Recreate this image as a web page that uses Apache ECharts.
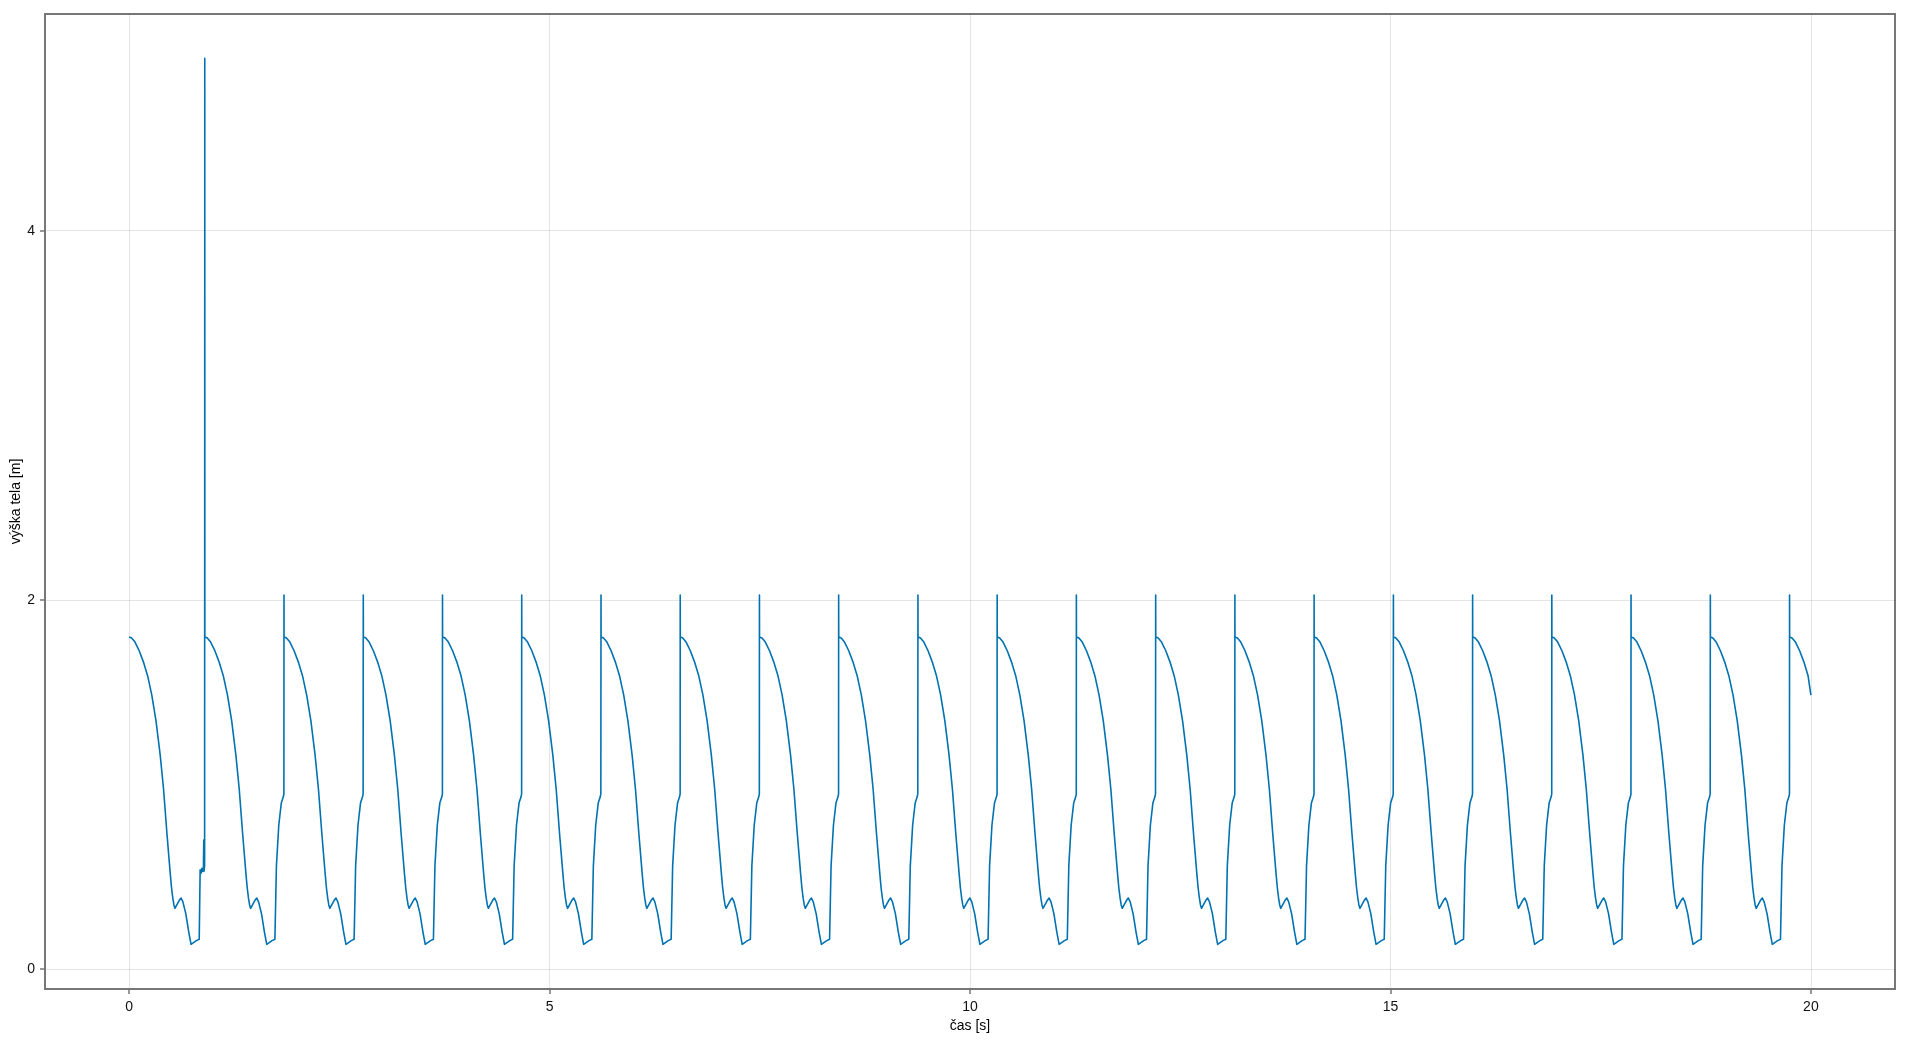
<!DOCTYPE html>
<html>
<head>
<meta charset="utf-8">
<script src="https://cdn.jsdelivr.net/npm/echarts@6/dist/echarts.min.js"></script>
<style>
html,body{margin:0;padding:0;background:#fff;}
#chart{width:1905px;height:1041px;}
</style>
</head>
<body>
<div id="chart"></div>
<script>
// Axis titles and tick labels
const xTitle = 'čas [s]';
const yTitle = 'výška tela [m]';
const xTicks = [0, 5, 10, 15, 20];
const yTicks = [0, 2, 4];

// time [s], one line per jump cycle
const timeS = [
  0.000, 0.030, 0.070, 0.120, 0.170, 0.220, 0.270, 0.320, 0.370, 0.410, 0.450, 0.490, 0.505, 0.520, 0.533, 0.545, 0.565, 0.595, 0.618, 0.640, 0.675, 0.710, 0.737, 0.800, 0.834, 0.845, 0.856, 0.866, 0.872, 0.884, 0.888, 0.890, 0.898,
  0.900, 0.901, 0.930, 0.970, 1.020, 1.070, 1.120, 1.170, 1.220, 1.270, 1.310, 1.350, 1.390, 1.405, 1.420, 1.433, 1.445, 1.465, 1.495, 1.518, 1.540, 1.575, 1.610, 1.637, 1.700, 1.734, 1.752, 1.780, 1.810, 1.835, 1.841,
  1.842, 1.843, 1.872, 1.912, 1.962, 2.012, 2.062, 2.112, 2.162, 2.212, 2.252, 2.292, 2.332, 2.347, 2.362, 2.375, 2.387, 2.407, 2.437, 2.460, 2.482, 2.517, 2.552, 2.579, 2.642, 2.676, 2.694, 2.722, 2.752, 2.777, 2.783,
  2.785, 2.786, 2.815, 2.855, 2.905, 2.955, 3.005, 3.055, 3.105, 3.155, 3.195, 3.235, 3.275, 3.290, 3.305, 3.318, 3.330, 3.350, 3.380, 3.403, 3.425, 3.460, 3.495, 3.522, 3.585, 3.619, 3.637, 3.665, 3.695, 3.720, 3.726,
  3.727, 3.728, 3.757, 3.797, 3.847, 3.897, 3.947, 3.997, 4.047, 4.097, 4.137, 4.177, 4.217, 4.232, 4.247, 4.260, 4.272, 4.292, 4.322, 4.345, 4.367, 4.402, 4.437, 4.464, 4.527, 4.561, 4.579, 4.607, 4.637, 4.662, 4.668,
  4.669, 4.670, 4.699, 4.739, 4.789, 4.839, 4.889, 4.939, 4.989, 5.039, 5.079, 5.119, 5.159, 5.174, 5.189, 5.202, 5.214, 5.234, 5.264, 5.287, 5.309, 5.344, 5.379, 5.406, 5.469, 5.503, 5.521, 5.549, 5.579, 5.604, 5.610,
  5.612, 5.613, 5.642, 5.682, 5.732, 5.782, 5.832, 5.882, 5.932, 5.982, 6.022, 6.062, 6.102, 6.117, 6.132, 6.145, 6.157, 6.177, 6.207, 6.230, 6.252, 6.287, 6.322, 6.349, 6.412, 6.446, 6.464, 6.492, 6.522, 6.547, 6.553,
  6.554, 6.555, 6.584, 6.624, 6.674, 6.724, 6.774, 6.824, 6.874, 6.924, 6.964, 7.004, 7.044, 7.059, 7.074, 7.087, 7.099, 7.119, 7.149, 7.172, 7.194, 7.229, 7.264, 7.291, 7.354, 7.388, 7.406, 7.434, 7.464, 7.489, 7.495,
  7.496, 7.497, 7.526, 7.566, 7.616, 7.666, 7.716, 7.766, 7.816, 7.866, 7.906, 7.946, 7.986, 8.001, 8.016, 8.029, 8.041, 8.061, 8.091, 8.114, 8.136, 8.171, 8.206, 8.233, 8.296, 8.330, 8.348, 8.376, 8.406, 8.431, 8.437,
  8.438, 8.439, 8.468, 8.508, 8.558, 8.608, 8.658, 8.708, 8.758, 8.808, 8.848, 8.888, 8.928, 8.943, 8.958, 8.971, 8.983, 9.003, 9.033, 9.056, 9.078, 9.113, 9.148, 9.175, 9.238, 9.272, 9.290, 9.318, 9.348, 9.373, 9.379,
  9.381, 9.382, 9.411, 9.451, 9.501, 9.551, 9.601, 9.651, 9.701, 9.751, 9.791, 9.831, 9.871, 9.886, 9.901, 9.914, 9.926, 9.946, 9.976, 9.999, 10.021, 10.056, 10.091, 10.118, 10.181, 10.215, 10.233, 10.261, 10.291, 10.316, 10.322,
  10.323, 10.324, 10.353, 10.393, 10.443, 10.493, 10.543, 10.593, 10.643, 10.693, 10.733, 10.773, 10.813, 10.828, 10.843, 10.856, 10.868, 10.888, 10.918, 10.941, 10.963, 10.998, 11.033, 11.060, 11.123, 11.157, 11.175, 11.203, 11.233, 11.258, 11.264,
  11.265, 11.266, 11.295, 11.335, 11.385, 11.435, 11.485, 11.535, 11.585, 11.635, 11.675, 11.715, 11.755, 11.770, 11.785, 11.798, 11.810, 11.830, 11.860, 11.883, 11.905, 11.940, 11.975, 12.002, 12.065, 12.099, 12.117, 12.145, 12.175, 12.200, 12.206,
  12.208, 12.209, 12.238, 12.278, 12.328, 12.378, 12.428, 12.478, 12.528, 12.578, 12.618, 12.658, 12.698, 12.713, 12.728, 12.741, 12.753, 12.773, 12.803, 12.826, 12.848, 12.883, 12.918, 12.945, 13.008, 13.042, 13.060, 13.088, 13.118, 13.143, 13.149,
  13.150, 13.151, 13.180, 13.220, 13.270, 13.320, 13.370, 13.420, 13.470, 13.520, 13.560, 13.600, 13.640, 13.655, 13.670, 13.683, 13.695, 13.715, 13.745, 13.768, 13.790, 13.825, 13.860, 13.887, 13.950, 13.984, 14.002, 14.030, 14.060, 14.085, 14.091,
  14.092, 14.093, 14.122, 14.162, 14.212, 14.262, 14.312, 14.362, 14.412, 14.462, 14.502, 14.542, 14.582, 14.597, 14.612, 14.625, 14.637, 14.657, 14.687, 14.710, 14.732, 14.767, 14.802, 14.829, 14.892, 14.926, 14.944, 14.972, 15.002, 15.027, 15.033,
  15.035, 15.036, 15.065, 15.105, 15.155, 15.205, 15.255, 15.305, 15.355, 15.405, 15.445, 15.485, 15.525, 15.540, 15.555, 15.568, 15.580, 15.600, 15.630, 15.653, 15.675, 15.710, 15.745, 15.772, 15.835, 15.869, 15.887, 15.915, 15.945, 15.970, 15.976,
  15.977, 15.978, 16.007, 16.047, 16.097, 16.147, 16.197, 16.247, 16.297, 16.347, 16.387, 16.427, 16.467, 16.482, 16.497, 16.510, 16.522, 16.542, 16.572, 16.595, 16.617, 16.652, 16.687, 16.714, 16.777, 16.811, 16.829, 16.857, 16.887, 16.912, 16.918,
  16.919, 16.920, 16.949, 16.989, 17.039, 17.089, 17.139, 17.189, 17.239, 17.289, 17.329, 17.369, 17.409, 17.424, 17.439, 17.452, 17.464, 17.484, 17.514, 17.537, 17.559, 17.594, 17.629, 17.656, 17.719, 17.753, 17.771, 17.799, 17.829, 17.854, 17.860,
  17.861, 17.862, 17.891, 17.931, 17.981, 18.031, 18.081, 18.131, 18.181, 18.231, 18.271, 18.311, 18.351, 18.366, 18.381, 18.394, 18.406, 18.426, 18.456, 18.479, 18.501, 18.536, 18.571, 18.598, 18.661, 18.695, 18.713, 18.741, 18.771, 18.796, 18.802,
  18.804, 18.805, 18.834, 18.874, 18.924, 18.974, 19.024, 19.074, 19.124, 19.174, 19.214, 19.254, 19.294, 19.309, 19.324, 19.337, 19.349, 19.369, 19.399, 19.422, 19.444, 19.479, 19.514, 19.541, 19.604, 19.638, 19.656, 19.684, 19.714, 19.739, 19.745,
  19.746, 19.747, 19.776, 19.816, 19.866, 19.916, 19.966, 20.000
];

// body height [m], one line per jump cycle
const heightM = [
  1.800, 1.794, 1.772, 1.725, 1.665, 1.590, 1.485, 1.345, 1.160, 0.975, 0.735, 0.515, 0.440, 0.385, 0.348, 0.330, 0.335, 0.372, 0.386, 0.365, 0.300, 0.200, 0.135, 0.155, 0.162, 0.538, 0.520, 0.547, 0.530, 0.545, 0.700, 0.530, 0.560,
  4.934, 1.800, 1.794, 1.772, 1.725, 1.665, 1.590, 1.485, 1.345, 1.160, 0.975, 0.735, 0.515, 0.440, 0.385, 0.348, 0.330, 0.335, 0.372, 0.386, 0.365, 0.300, 0.200, 0.135, 0.155, 0.162, 0.560, 0.780, 0.900, 0.935, 0.950,
  2.027, 1.800, 1.794, 1.772, 1.725, 1.665, 1.590, 1.485, 1.345, 1.160, 0.975, 0.735, 0.515, 0.440, 0.385, 0.348, 0.330, 0.335, 0.372, 0.386, 0.365, 0.300, 0.200, 0.135, 0.155, 0.162, 0.560, 0.780, 0.900, 0.935, 0.950,
  2.027, 1.800, 1.794, 1.772, 1.725, 1.665, 1.590, 1.485, 1.345, 1.160, 0.975, 0.735, 0.515, 0.440, 0.385, 0.348, 0.330, 0.335, 0.372, 0.386, 0.365, 0.300, 0.200, 0.135, 0.155, 0.162, 0.560, 0.780, 0.900, 0.935, 0.950,
  2.027, 1.800, 1.794, 1.772, 1.725, 1.665, 1.590, 1.485, 1.345, 1.160, 0.975, 0.735, 0.515, 0.440, 0.385, 0.348, 0.330, 0.335, 0.372, 0.386, 0.365, 0.300, 0.200, 0.135, 0.155, 0.162, 0.560, 0.780, 0.900, 0.935, 0.950,
  2.027, 1.800, 1.794, 1.772, 1.725, 1.665, 1.590, 1.485, 1.345, 1.160, 0.975, 0.735, 0.515, 0.440, 0.385, 0.348, 0.330, 0.335, 0.372, 0.386, 0.365, 0.300, 0.200, 0.135, 0.155, 0.162, 0.560, 0.780, 0.900, 0.935, 0.950,
  2.027, 1.800, 1.794, 1.772, 1.725, 1.665, 1.590, 1.485, 1.345, 1.160, 0.975, 0.735, 0.515, 0.440, 0.385, 0.348, 0.330, 0.335, 0.372, 0.386, 0.365, 0.300, 0.200, 0.135, 0.155, 0.162, 0.560, 0.780, 0.900, 0.935, 0.950,
  2.027, 1.800, 1.794, 1.772, 1.725, 1.665, 1.590, 1.485, 1.345, 1.160, 0.975, 0.735, 0.515, 0.440, 0.385, 0.348, 0.330, 0.335, 0.372, 0.386, 0.365, 0.300, 0.200, 0.135, 0.155, 0.162, 0.560, 0.780, 0.900, 0.935, 0.950,
  2.027, 1.800, 1.794, 1.772, 1.725, 1.665, 1.590, 1.485, 1.345, 1.160, 0.975, 0.735, 0.515, 0.440, 0.385, 0.348, 0.330, 0.335, 0.372, 0.386, 0.365, 0.300, 0.200, 0.135, 0.155, 0.162, 0.560, 0.780, 0.900, 0.935, 0.950,
  2.027, 1.800, 1.794, 1.772, 1.725, 1.665, 1.590, 1.485, 1.345, 1.160, 0.975, 0.735, 0.515, 0.440, 0.385, 0.348, 0.330, 0.335, 0.372, 0.386, 0.365, 0.300, 0.200, 0.135, 0.155, 0.162, 0.560, 0.780, 0.900, 0.935, 0.950,
  2.027, 1.800, 1.794, 1.772, 1.725, 1.665, 1.590, 1.485, 1.345, 1.160, 0.975, 0.735, 0.515, 0.440, 0.385, 0.348, 0.330, 0.335, 0.372, 0.386, 0.365, 0.300, 0.200, 0.135, 0.155, 0.162, 0.560, 0.780, 0.900, 0.935, 0.950,
  2.027, 1.800, 1.794, 1.772, 1.725, 1.665, 1.590, 1.485, 1.345, 1.160, 0.975, 0.735, 0.515, 0.440, 0.385, 0.348, 0.330, 0.335, 0.372, 0.386, 0.365, 0.300, 0.200, 0.135, 0.155, 0.162, 0.560, 0.780, 0.900, 0.935, 0.950,
  2.027, 1.800, 1.794, 1.772, 1.725, 1.665, 1.590, 1.485, 1.345, 1.160, 0.975, 0.735, 0.515, 0.440, 0.385, 0.348, 0.330, 0.335, 0.372, 0.386, 0.365, 0.300, 0.200, 0.135, 0.155, 0.162, 0.560, 0.780, 0.900, 0.935, 0.950,
  2.027, 1.800, 1.794, 1.772, 1.725, 1.665, 1.590, 1.485, 1.345, 1.160, 0.975, 0.735, 0.515, 0.440, 0.385, 0.348, 0.330, 0.335, 0.372, 0.386, 0.365, 0.300, 0.200, 0.135, 0.155, 0.162, 0.560, 0.780, 0.900, 0.935, 0.950,
  2.027, 1.800, 1.794, 1.772, 1.725, 1.665, 1.590, 1.485, 1.345, 1.160, 0.975, 0.735, 0.515, 0.440, 0.385, 0.348, 0.330, 0.335, 0.372, 0.386, 0.365, 0.300, 0.200, 0.135, 0.155, 0.162, 0.560, 0.780, 0.900, 0.935, 0.950,
  2.027, 1.800, 1.794, 1.772, 1.725, 1.665, 1.590, 1.485, 1.345, 1.160, 0.975, 0.735, 0.515, 0.440, 0.385, 0.348, 0.330, 0.335, 0.372, 0.386, 0.365, 0.300, 0.200, 0.135, 0.155, 0.162, 0.560, 0.780, 0.900, 0.935, 0.950,
  2.027, 1.800, 1.794, 1.772, 1.725, 1.665, 1.590, 1.485, 1.345, 1.160, 0.975, 0.735, 0.515, 0.440, 0.385, 0.348, 0.330, 0.335, 0.372, 0.386, 0.365, 0.300, 0.200, 0.135, 0.155, 0.162, 0.560, 0.780, 0.900, 0.935, 0.950,
  2.027, 1.800, 1.794, 1.772, 1.725, 1.665, 1.590, 1.485, 1.345, 1.160, 0.975, 0.735, 0.515, 0.440, 0.385, 0.348, 0.330, 0.335, 0.372, 0.386, 0.365, 0.300, 0.200, 0.135, 0.155, 0.162, 0.560, 0.780, 0.900, 0.935, 0.950,
  2.027, 1.800, 1.794, 1.772, 1.725, 1.665, 1.590, 1.485, 1.345, 1.160, 0.975, 0.735, 0.515, 0.440, 0.385, 0.348, 0.330, 0.335, 0.372, 0.386, 0.365, 0.300, 0.200, 0.135, 0.155, 0.162, 0.560, 0.780, 0.900, 0.935, 0.950,
  2.027, 1.800, 1.794, 1.772, 1.725, 1.665, 1.590, 1.485, 1.345, 1.160, 0.975, 0.735, 0.515, 0.440, 0.385, 0.348, 0.330, 0.335, 0.372, 0.386, 0.365, 0.300, 0.200, 0.135, 0.155, 0.162, 0.560, 0.780, 0.900, 0.935, 0.950,
  2.027, 1.800, 1.794, 1.772, 1.725, 1.665, 1.590, 1.485, 1.345, 1.160, 0.975, 0.735, 0.515, 0.440, 0.385, 0.348, 0.330, 0.335, 0.372, 0.386, 0.365, 0.300, 0.200, 0.135, 0.155, 0.162, 0.560, 0.780, 0.900, 0.935, 0.950,
  2.027, 1.800, 1.794, 1.772, 1.725, 1.665, 1.590, 1.485, 1.345, 1.160, 0.975, 0.735, 0.515, 0.440, 0.385, 0.348, 0.330, 0.335, 0.372, 0.386, 0.365, 0.300, 0.200, 0.135, 0.155, 0.162, 0.560, 0.780, 0.900, 0.935, 0.950,
  2.027, 1.800, 1.794, 1.772, 1.725, 1.665, 1.590, 1.513
];

const n = Math.min(timeS.length, heightM.length);
if (timeS.length !== heightM.length) console.error('length mismatch', timeS.length, heightM.length);
const seriesData = [];
for (let i = 0; i < n; i++) seriesData.push([timeS[i], heightM[i]]);

const FONT = '"Liberation Sans", Arial, Helvetica, sans-serif';
const frameColor = '#777777';
const gridColor = 'rgba(0,0,0,0.10)';

const chart = echarts.init(document.getElementById('chart'), null, {renderer: 'canvas'});
chart.setOption({
  animation: false,
  backgroundColor: '#ffffff',
  grid: {
    left: 45, right: 10, top: 14, bottom: 52,
    containLabel: false,
    outerBoundsMode: 'none',
    show: true,
    borderColor: frameColor,
    borderWidth: 2,
    backgroundColor: 'transparent'
  },
  xAxis: {
    type: 'value',
    min: -1, max: 21,
    minInterval: 5, maxInterval: 5,
    name: xTitle,
    nameLocation: 'middle',
    nameGap: 28,
    nameTextStyle: {fontFamily: FONT, fontSize: 14, color: '#000'},
    axisLine: {show: true, onZero: false, lineStyle: {color: frameColor, width: 2}},
    axisTick: {show: true, length: 5, inside: false, customValues: xTicks, lineStyle: {color: frameColor, width: 1.5}},
    axisLabel: {show: true, margin: 11, customValues: xTicks, fontFamily: FONT, fontSize: 14, color: '#111',
      formatter: v => String(v)},
    splitLine: {show: true, lineStyle: {color: gridColor, width: 1}}
  },
  yAxis: {
    type: 'value',
    min: -0.107, max: 5.174,
    minInterval: 2, maxInterval: 2,
    name: yTitle,
    nameLocation: 'middle',
    nameRotate: 90,
    nameGap: 22,
    nameMoveOverlap: false,
    nameTextStyle: {fontFamily: FONT, fontSize: 14, color: '#000'},
    axisLine: {show: true, onZero: false, lineStyle: {color: frameColor, width: 2}},
    axisTick: {show: true, length: 5, inside: false, customValues: yTicks, lineStyle: {color: frameColor, width: 1.5}},
    axisLabel: {show: true, margin: 10, customValues: yTicks, fontFamily: FONT, fontSize: 14, color: '#111',
      formatter: v => String(v)},
    splitLine: {show: true, lineStyle: {color: gridColor, width: 1}}
  },
  series: [{
    type: 'line',
    data: seriesData,
    showSymbol: false,
    symbol: 'none',
    clip: true,
    lineStyle: {color: '#0072b2', width: 1.6, join: 'round'},
    itemStyle: {color: '#0072b2'}
  }]
});
</script>
</body>
</html>
